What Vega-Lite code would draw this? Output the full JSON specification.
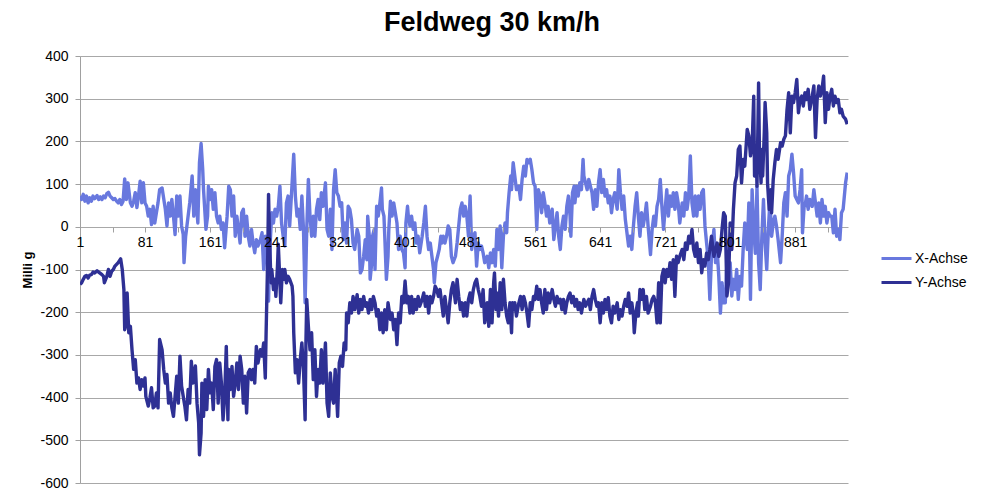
{
"$schema": "https://vega.github.io/schema/vega-lite/v6.json",
"width": 768, "height": 427,
"autosize": "none",
"padding": {"left": 80, "top": 56, "right": 138, "bottom": 7},
"background": "white",
"config": {"font": "Liberation Sans", "view": {"stroke": null}},
"title": {"text": "Feldweg 30 km/h", "fontSize": 27, "fontWeight": "bold", "font": "Liberation Sans", "color": "#000000", "anchor": "middle", "frame": "group", "dx": 28, "offset": 12},
"data": {"values": [
{"s":"X-Achse","i":1,"v":72},{"s":"X-Achse","i":3,"v":64},{"s":"X-Achse","i":5,"v":76},{"s":"X-Achse","i":7,"v":60},{"s":"X-Achse","i":9,"v":72},{"s":"X-Achse","i":11,"v":56},{"s":"X-Achse","i":13,"v":68},{"s":"X-Achse","i":15,"v":60},{"s":"X-Achse","i":17,"v":72},{"s":"X-Achse","i":19,"v":66},{"s":"X-Achse","i":22,"v":73},{"s":"X-Achse","i":24,"v":64},{"s":"X-Achse","i":26,"v":70},{"s":"X-Achse","i":28,"v":64},{"s":"X-Achse","i":30,"v":72},{"s":"X-Achse","i":32,"v":68},{"s":"X-Achse","i":34,"v":78},{"s":"X-Achse","i":36,"v":81},{"s":"X-Achse","i":38,"v":72},{"s":"X-Achse","i":40,"v":68},{"s":"X-Achse","i":42,"v":64},{"s":"X-Achse","i":44,"v":66},{"s":"X-Achse","i":46,"v":60},{"s":"X-Achse","i":48,"v":56},{"s":"X-Achse","i":50,"v":64},{"s":"X-Achse","i":52,"v":52},{"s":"X-Achse","i":54,"v":60},{"s":"X-Achse","i":56,"v":112},{"s":"X-Achse","i":58,"v":64},{"s":"X-Achse","i":60,"v":103},{"s":"X-Achse","i":63,"v":56},{"s":"X-Achse","i":65,"v":48},{"s":"X-Achse","i":67,"v":60},{"s":"X-Achse","i":69,"v":80},{"s":"X-Achse","i":71,"v":45},{"s":"X-Achse","i":73,"v":72},{"s":"X-Achse","i":75,"v":107},{"s":"X-Achse","i":77,"v":56},{"s":"X-Achse","i":79,"v":103},{"s":"X-Achse","i":81,"v":56},{"s":"X-Achse","i":83,"v":48},{"s":"X-Achse","i":85,"v":25},{"s":"X-Achse","i":87,"v":41},{"s":"X-Achse","i":89,"v":5},{"s":"X-Achse","i":91,"v":48},{"s":"X-Achse","i":93,"v":9},{"s":"X-Achse","i":95,"v":33},{"s":"X-Achse","i":97,"v":56},{"s":"X-Achse","i":99,"v":87},{"s":"X-Achse","i":102,"v":91},{"s":"X-Achse","i":106,"v":41},{"s":"X-Achse","i":108,"v":2},{"s":"X-Achse","i":110,"v":56},{"s":"X-Achse","i":112,"v":25},{"s":"X-Achse","i":114,"v":64},{"s":"X-Achse","i":116,"v":25},{"s":"X-Achse","i":118,"v":-18},{"s":"X-Achse","i":120,"v":72},{"s":"X-Achse","i":122,"v":25},{"s":"X-Achse","i":124,"v":72},{"s":"X-Achse","i":126,"v":2},{"s":"X-Achse","i":128,"v":-18},{"s":"X-Achse","i":129,"v":-84},{"s":"X-Achse","i":131,"v":-22},{"s":"X-Achse","i":133,"v":9},{"s":"X-Achse","i":136,"v":56},{"s":"X-Achse","i":139,"v":119},{"s":"X-Achse","i":141,"v":25},{"s":"X-Achse","i":143,"v":87},{"s":"X-Achse","i":146,"v":9},{"s":"X-Achse","i":148,"v":150},{"s":"X-Achse","i":150,"v":195},{"s":"X-Achse","i":152,"v":134},{"s":"X-Achse","i":153,"v":87},{"s":"X-Achse","i":156,"v":-6},{"s":"X-Achse","i":158,"v":25},{"s":"X-Achse","i":159,"v":95},{"s":"X-Achse","i":161,"v":64},{"s":"X-Achse","i":163,"v":87},{"s":"X-Achse","i":165,"v":41},{"s":"X-Achse","i":167,"v":80},{"s":"X-Achse","i":169,"v":25},{"s":"X-Achse","i":171,"v":9},{"s":"X-Achse","i":173,"v":25},{"s":"X-Achse","i":175,"v":-6},{"s":"X-Achse","i":177,"v":9},{"s":"X-Achse","i":179,"v":-49},{"s":"X-Achse","i":182,"v":25},{"s":"X-Achse","i":184,"v":95},{"s":"X-Achse","i":186,"v":87},{"s":"X-Achse","i":188,"v":25},{"s":"X-Achse","i":190,"v":72},{"s":"X-Achse","i":192,"v":-22},{"s":"X-Achse","i":194,"v":25},{"s":"X-Achse","i":196,"v":-6},{"s":"X-Achse","i":198,"v":-38},{"s":"X-Achse","i":200,"v":33},{"s":"X-Achse","i":202,"v":41},{"s":"X-Achse","i":204,"v":-22},{"s":"X-Achse","i":206,"v":25},{"s":"X-Achse","i":208,"v":-22},{"s":"X-Achse","i":210,"v":-45},{"s":"X-Achse","i":212,"v":-6},{"s":"X-Achse","i":214,"v":-38},{"s":"X-Achse","i":216,"v":-61},{"s":"X-Achse","i":218,"v":-30},{"s":"X-Achse","i":220,"v":-45},{"s":"X-Achse","i":223,"v":-30},{"s":"X-Achse","i":225,"v":-14},{"s":"X-Achse","i":227,"v":-100},{"s":"X-Achse","i":229,"v":-22},{"s":"X-Achse","i":231,"v":-53},{"s":"X-Achse","i":233,"v":-174},{"s":"X-Achse","i":235,"v":-38},{"s":"X-Achse","i":237,"v":33},{"s":"X-Achse","i":239,"v":9},{"s":"X-Achse","i":241,"v":41},{"s":"X-Achse","i":243,"v":25},{"s":"X-Achse","i":245,"v":48},{"s":"X-Achse","i":247,"v":95},{"s":"X-Achse","i":249,"v":9},{"s":"X-Achse","i":251,"v":-22},{"s":"X-Achse","i":253,"v":-45},{"s":"X-Achse","i":255,"v":56},{"s":"X-Achse","i":257,"v":72},{"s":"X-Achse","i":259,"v":2},{"s":"X-Achse","i":262,"v":103},{"s":"X-Achse","i":264,"v":170},{"s":"X-Achse","i":266,"v":72},{"s":"X-Achse","i":268,"v":25},{"s":"X-Achse","i":270,"v":41},{"s":"X-Achse","i":272,"v":-6},{"s":"X-Achse","i":274,"v":72},{"s":"X-Achse","i":276,"v":-6},{"s":"X-Achse","i":278,"v":-178},{"s":"X-Achse","i":280,"v":-6},{"s":"X-Achse","i":282,"v":111},{"s":"X-Achse","i":284,"v":25},{"s":"X-Achse","i":286,"v":-22},{"s":"X-Achse","i":288,"v":25},{"s":"X-Achse","i":290,"v":-22},{"s":"X-Achse","i":292,"v":41},{"s":"X-Achse","i":294,"v":64},{"s":"X-Achse","i":296,"v":17},{"s":"X-Achse","i":298,"v":80},{"s":"X-Achse","i":300,"v":48},{"s":"X-Achse","i":303,"v":103},{"s":"X-Achse","i":305,"v":-6},{"s":"X-Achse","i":307,"v":-22},{"s":"X-Achse","i":309,"v":41},{"s":"X-Achse","i":311,"v":-53},{"s":"X-Achse","i":313,"v":87},{"s":"X-Achse","i":315,"v":134},{"s":"X-Achse","i":317,"v":80},{"s":"X-Achse","i":319,"v":72},{"s":"X-Achse","i":321,"v":48},{"s":"X-Achse","i":323,"v":56},{"s":"X-Achse","i":325,"v":-30},{"s":"X-Achse","i":327,"v":9},{"s":"X-Achse","i":329,"v":-38},{"s":"X-Achse","i":331,"v":48},{"s":"X-Achse","i":333,"v":41},{"s":"X-Achse","i":335,"v":17},{"s":"X-Achse","i":337,"v":-38},{"s":"X-Achse","i":339,"v":-53},{"s":"X-Achse","i":342,"v":-6},{"s":"X-Achse","i":344,"v":-22},{"s":"X-Achse","i":346,"v":-108},{"s":"X-Achse","i":348,"v":-100},{"s":"X-Achse","i":350,"v":-69},{"s":"X-Achse","i":352,"v":-30},{"s":"X-Achse","i":354,"v":-77},{"s":"X-Achse","i":355,"v":25},{"s":"X-Achse","i":357,"v":-22},{"s":"X-Achse","i":358,"v":-123},{"s":"X-Achse","i":360,"v":-84},{"s":"X-Achse","i":361,"v":-22},{"s":"X-Achse","i":363,"v":-6},{"s":"X-Achse","i":364,"v":-100},{"s":"X-Achse","i":366,"v":48},{"s":"X-Achse","i":368,"v":25},{"s":"X-Achse","i":370,"v":56},{"s":"X-Achse","i":372,"v":91},{"s":"X-Achse","i":373,"v":41},{"s":"X-Achse","i":375,"v":25},{"s":"X-Achse","i":376,"v":-22},{"s":"X-Achse","i":378,"v":-123},{"s":"X-Achse","i":380,"v":-69},{"s":"X-Achse","i":381,"v":-6},{"s":"X-Achse","i":383,"v":60},{"s":"X-Achse","i":385,"v":25},{"s":"X-Achse","i":387,"v":56},{"s":"X-Achse","i":389,"v":33},{"s":"X-Achse","i":391,"v":9},{"s":"X-Achse","i":393,"v":-53},{"s":"X-Achse","i":395,"v":-22},{"s":"X-Achse","i":397,"v":-53},{"s":"X-Achse","i":399,"v":-61},{"s":"X-Achse","i":401,"v":-96},{"s":"X-Achse","i":402,"v":9},{"s":"X-Achse","i":404,"v":48},{"s":"X-Achse","i":405,"v":25},{"s":"X-Achse","i":407,"v":2},{"s":"X-Achse","i":409,"v":25},{"s":"X-Achse","i":411,"v":-6},{"s":"X-Achse","i":413,"v":9},{"s":"X-Achse","i":415,"v":-38},{"s":"X-Achse","i":417,"v":-22},{"s":"X-Achse","i":419,"v":-61},{"s":"X-Achse","i":422,"v":-22},{"s":"X-Achse","i":424,"v":9},{"s":"X-Achse","i":426,"v":48},{"s":"X-Achse","i":428,"v":-22},{"s":"X-Achse","i":430,"v":-53},{"s":"X-Achse","i":432,"v":-38},{"s":"X-Achse","i":434,"v":-69},{"s":"X-Achse","i":436,"v":-100},{"s":"X-Achse","i":437,"v":-131},{"s":"X-Achse","i":439,"v":-84},{"s":"X-Achse","i":441,"v":-69},{"s":"X-Achse","i":443,"v":-53},{"s":"X-Achse","i":445,"v":-22},{"s":"X-Achse","i":446,"v":-38},{"s":"X-Achse","i":448,"v":-22},{"s":"X-Achse","i":450,"v":-38},{"s":"X-Achse","i":452,"v":-22},{"s":"X-Achse","i":454,"v":2},{"s":"X-Achse","i":456,"v":-6},{"s":"X-Achse","i":458,"v":-69},{"s":"X-Achse","i":460,"v":-84},{"s":"X-Achse","i":463,"v":-69},{"s":"X-Achse","i":465,"v":-38},{"s":"X-Achse","i":467,"v":2},{"s":"X-Achse","i":469,"v":41},{"s":"X-Achse","i":471,"v":56},{"s":"X-Achse","i":473,"v":25},{"s":"X-Achse","i":475,"v":48},{"s":"X-Achse","i":477,"v":25},{"s":"X-Achse","i":479,"v":-22},{"s":"X-Achse","i":481,"v":72},{"s":"X-Achse","i":483,"v":-53},{"s":"X-Achse","i":485,"v":-22},{"s":"X-Achse","i":487,"v":-14},{"s":"X-Achse","i":489,"v":-92},{"s":"X-Achse","i":491,"v":-38},{"s":"X-Achse","i":493,"v":-53},{"s":"X-Achse","i":495,"v":-45},{"s":"X-Achse","i":497,"v":-61},{"s":"X-Achse","i":499,"v":-84},{"s":"X-Achse","i":502,"v":-69},{"s":"X-Achse","i":504,"v":-96},{"s":"X-Achse","i":506,"v":-61},{"s":"X-Achse","i":508,"v":-84},{"s":"X-Achse","i":510,"v":-53},{"s":"X-Achse","i":512,"v":-92},{"s":"X-Achse","i":514,"v":-6},{"s":"X-Achse","i":516,"v":-53},{"s":"X-Achse","i":518,"v":2},{"s":"X-Achse","i":520,"v":-96},{"s":"X-Achse","i":522,"v":-22},{"s":"X-Achse","i":524,"v":9},{"s":"X-Achse","i":526,"v":-14},{"s":"X-Achse","i":527,"v":33},{"s":"X-Achse","i":529,"v":80},{"s":"X-Achse","i":531,"v":119},{"s":"X-Achse","i":532,"v":87},{"s":"X-Achse","i":534,"v":150},{"s":"X-Achse","i":536,"v":119},{"s":"X-Achse","i":538,"v":87},{"s":"X-Achse","i":541,"v":95},{"s":"X-Achse","i":543,"v":64},{"s":"X-Achse","i":545,"v":111},{"s":"X-Achse","i":547,"v":142},{"s":"X-Achse","i":549,"v":119},{"s":"X-Achse","i":551,"v":158},{"s":"X-Achse","i":553,"v":150},{"s":"X-Achse","i":555,"v":158},{"s":"X-Achse","i":557,"v":134},{"s":"X-Achse","i":559,"v":103},{"s":"X-Achse","i":561,"v":95},{"s":"X-Achse","i":563,"v":-6},{"s":"X-Achse","i":565,"v":87},{"s":"X-Achse","i":567,"v":72},{"s":"X-Achse","i":569,"v":33},{"s":"X-Achse","i":571,"v":80},{"s":"X-Achse","i":573,"v":56},{"s":"X-Achse","i":575,"v":25},{"s":"X-Achse","i":577,"v":48},{"s":"X-Achse","i":579,"v":9},{"s":"X-Achse","i":582,"v":41},{"s":"X-Achse","i":584,"v":-30},{"s":"X-Achse","i":586,"v":2},{"s":"X-Achse","i":588,"v":33},{"s":"X-Achse","i":590,"v":-22},{"s":"X-Achse","i":592,"v":-53},{"s":"X-Achse","i":594,"v":2},{"s":"X-Achse","i":596,"v":25},{"s":"X-Achse","i":598,"v":-6},{"s":"X-Achse","i":600,"v":48},{"s":"X-Achse","i":602,"v":72},{"s":"X-Achse","i":604,"v":25},{"s":"X-Achse","i":605,"v":-22},{"s":"X-Achse","i":607,"v":80},{"s":"X-Achse","i":609,"v":95},{"s":"X-Achse","i":610,"v":56},{"s":"X-Achse","i":612,"v":95},{"s":"X-Achse","i":614,"v":72},{"s":"X-Achse","i":616,"v":103},{"s":"X-Achse","i":618,"v":87},{"s":"X-Achse","i":620,"v":158},{"s":"X-Achse","i":621,"v":119},{"s":"X-Achse","i":623,"v":103},{"s":"X-Achse","i":625,"v":87},{"s":"X-Achse","i":627,"v":111},{"s":"X-Achse","i":629,"v":95},{"s":"X-Achse","i":631,"v":80},{"s":"X-Achse","i":633,"v":41},{"s":"X-Achse","i":635,"v":87},{"s":"X-Achse","i":637,"v":48},{"s":"X-Achse","i":639,"v":103},{"s":"X-Achse","i":641,"v":134},{"s":"X-Achse","i":643,"v":80},{"s":"X-Achse","i":645,"v":111},{"s":"X-Achse","i":647,"v":72},{"s":"X-Achse","i":649,"v":87},{"s":"X-Achse","i":651,"v":56},{"s":"X-Achse","i":653,"v":72},{"s":"X-Achse","i":655,"v":33},{"s":"X-Achse","i":657,"v":64},{"s":"X-Achse","i":659,"v":80},{"s":"X-Achse","i":662,"v":41},{"s":"X-Achse","i":664,"v":134},{"s":"X-Achse","i":666,"v":80},{"s":"X-Achse","i":668,"v":41},{"s":"X-Achse","i":670,"v":72},{"s":"X-Achse","i":672,"v":17},{"s":"X-Achse","i":674,"v":-14},{"s":"X-Achse","i":676,"v":-45},{"s":"X-Achse","i":678,"v":-22},{"s":"X-Achse","i":680,"v":-53},{"s":"X-Achse","i":682,"v":2},{"s":"X-Achse","i":684,"v":48},{"s":"X-Achse","i":686,"v":80},{"s":"X-Achse","i":688,"v":25},{"s":"X-Achse","i":690,"v":-22},{"s":"X-Achse","i":692,"v":33},{"s":"X-Achse","i":694,"v":2},{"s":"X-Achse","i":696,"v":25},{"s":"X-Achse","i":698,"v":56},{"s":"X-Achse","i":700,"v":2},{"s":"X-Achse","i":703,"v":-65},{"s":"X-Achse","i":705,"v":-6},{"s":"X-Achse","i":707,"v":25},{"s":"X-Achse","i":709,"v":2},{"s":"X-Achse","i":711,"v":48},{"s":"X-Achse","i":713,"v":64},{"s":"X-Achse","i":715,"v":111},{"s":"X-Achse","i":717,"v":48},{"s":"X-Achse","i":719,"v":-6},{"s":"X-Achse","i":721,"v":41},{"s":"X-Achse","i":723,"v":87},{"s":"X-Achse","i":725,"v":25},{"s":"X-Achse","i":727,"v":72},{"s":"X-Achse","i":729,"v":48},{"s":"X-Achse","i":731,"v":80},{"s":"X-Achse","i":733,"v":41},{"s":"X-Achse","i":735,"v":80},{"s":"X-Achse","i":737,"v":56},{"s":"X-Achse","i":739,"v":9},{"s":"X-Achse","i":742,"v":56},{"s":"X-Achse","i":744,"v":25},{"s":"X-Achse","i":746,"v":80},{"s":"X-Achse","i":748,"v":41},{"s":"X-Achse","i":750,"v":72},{"s":"X-Achse","i":752,"v":166},{"s":"X-Achse","i":754,"v":56},{"s":"X-Achse","i":756,"v":25},{"s":"X-Achse","i":758,"v":72},{"s":"X-Achse","i":760,"v":25},{"s":"X-Achse","i":762,"v":72},{"s":"X-Achse","i":764,"v":41},{"s":"X-Achse","i":766,"v":80},{"s":"X-Achse","i":768,"v":87},{"s":"X-Achse","i":770,"v":2},{"s":"X-Achse","i":772,"v":-38},{"s":"X-Achse","i":774,"v":-77},{"s":"X-Achse","i":776,"v":-170},{"s":"X-Achse","i":778,"v":-69},{"s":"X-Achse","i":781,"v":-6},{"s":"X-Achse","i":783,"v":-84},{"s":"X-Achse","i":785,"v":-53},{"s":"X-Achse","i":787,"v":-116},{"s":"X-Achse","i":789,"v":-202},{"s":"X-Achse","i":791,"v":-131},{"s":"X-Achse","i":793,"v":-178},{"s":"X-Achse","i":795,"v":-178},{"s":"X-Achse","i":797,"v":-84},{"s":"X-Achse","i":799,"v":-131},{"s":"X-Achse","i":801,"v":-84},{"s":"X-Achse","i":803,"v":-162},{"s":"X-Achse","i":805,"v":-123},{"s":"X-Achse","i":807,"v":-147},{"s":"X-Achse","i":809,"v":-100},{"s":"X-Achse","i":811,"v":-170},{"s":"X-Achse","i":813,"v":-116},{"s":"X-Achse","i":815,"v":-139},{"s":"X-Achse","i":817,"v":-53},{"s":"X-Achse","i":819,"v":9},{"s":"X-Achse","i":822,"v":-53},{"s":"X-Achse","i":824,"v":56},{"s":"X-Achse","i":826,"v":-170},{"s":"X-Achse","i":828,"v":87},{"s":"X-Achse","i":830,"v":-6},{"s":"X-Achse","i":832,"v":-62},{"s":"X-Achse","i":834,"v":95},{"s":"X-Achse","i":836,"v":-84},{"s":"X-Achse","i":838,"v":-147},{"s":"X-Achse","i":840,"v":-22},{"s":"X-Achse","i":842,"v":64},{"s":"X-Achse","i":844,"v":-38},{"s":"X-Achse","i":846,"v":-100},{"s":"X-Achse","i":848,"v":-6},{"s":"X-Achse","i":850,"v":64},{"s":"X-Achse","i":852,"v":-22},{"s":"X-Achse","i":854,"v":9},{"s":"X-Achse","i":856,"v":25},{"s":"X-Achse","i":858,"v":2},{"s":"X-Achse","i":860,"v":-30},{"s":"X-Achse","i":863,"v":-84},{"s":"X-Achse","i":865,"v":-22},{"s":"X-Achse","i":867,"v":56},{"s":"X-Achse","i":869,"v":80},{"s":"X-Achse","i":871,"v":25},{"s":"X-Achse","i":873,"v":119},{"s":"X-Achse","i":875,"v":134},{"s":"X-Achse","i":877,"v":170},{"s":"X-Achse","i":879,"v":127},{"s":"X-Achse","i":881,"v":72},{"s":"X-Achse","i":883,"v":64},{"s":"X-Achse","i":885,"v":56},{"s":"X-Achse","i":887,"v":87},{"s":"X-Achse","i":889,"v":134},{"s":"X-Achse","i":890,"v":-14},{"s":"X-Achse","i":892,"v":48},{"s":"X-Achse","i":893,"v":48},{"s":"X-Achse","i":895,"v":72},{"s":"X-Achse","i":897,"v":41},{"s":"X-Achse","i":899,"v":64},{"s":"X-Achse","i":902,"v":48},{"s":"X-Achse","i":904,"v":87},{"s":"X-Achse","i":906,"v":56},{"s":"X-Achse","i":908,"v":25},{"s":"X-Achse","i":910,"v":56},{"s":"X-Achse","i":912,"v":9},{"s":"X-Achse","i":914,"v":64},{"s":"X-Achse","i":916,"v":25},{"s":"X-Achse","i":918,"v":48},{"s":"X-Achse","i":920,"v":9},{"s":"X-Achse","i":922,"v":33},{"s":"X-Achse","i":924,"v":25},{"s":"X-Achse","i":926,"v":25},{"s":"X-Achse","i":928,"v":-14},{"s":"X-Achse","i":930,"v":41},{"s":"X-Achse","i":932,"v":-22},{"s":"X-Achse","i":934,"v":-6},{"s":"X-Achse","i":936,"v":-30},{"s":"X-Achse","i":938,"v":33},{"s":"X-Achse","i":940,"v":41},{"s":"X-Achse","i":943,"v":103},{"s":"X-Achse","i":945,"v":127},
{"s":"Y-Achse","i":1,"v":-135},{"s":"Y-Achse","i":3,"v":-131},{"s":"Y-Achse","i":5,"v":-123},{"s":"Y-Achse","i":7,"v":-116},{"s":"Y-Achse","i":9,"v":-114},{"s":"Y-Achse","i":11,"v":-120},{"s":"Y-Achse","i":13,"v":-113},{"s":"Y-Achse","i":15,"v":-112},{"s":"Y-Achse","i":17,"v":-106},{"s":"Y-Achse","i":19,"v":-108},{"s":"Y-Achse","i":22,"v":-103},{"s":"Y-Achse","i":24,"v":-106},{"s":"Y-Achse","i":26,"v":-109},{"s":"Y-Achse","i":28,"v":-112},{"s":"Y-Achse","i":30,"v":-116},{"s":"Y-Achse","i":31,"v":-131},{"s":"Y-Achse","i":34,"v":-116},{"s":"Y-Achse","i":36,"v":-100},{"s":"Y-Achse","i":38,"v":-116},{"s":"Y-Achse","i":40,"v":-104},{"s":"Y-Achse","i":42,"v":-100},{"s":"Y-Achse","i":44,"v":-92},{"s":"Y-Achse","i":46,"v":-88},{"s":"Y-Achse","i":48,"v":-84},{"s":"Y-Achse","i":51,"v":-75},{"s":"Y-Achse","i":53,"v":-100},{"s":"Y-Achse","i":55,"v":-147},{"s":"Y-Achse","i":56,"v":-241},{"s":"Y-Achse","i":58,"v":-225},{"s":"Y-Achse","i":59,"v":-155},{"s":"Y-Achse","i":61,"v":-248},{"s":"Y-Achse","i":63,"v":-233},{"s":"Y-Achse","i":65,"v":-288},{"s":"Y-Achse","i":67,"v":-334},{"s":"Y-Achse","i":69,"v":-311},{"s":"Y-Achse","i":71,"v":-366},{"s":"Y-Achse","i":73,"v":-354},{"s":"Y-Achse","i":75,"v":-381},{"s":"Y-Achse","i":77,"v":-358},{"s":"Y-Achse","i":79,"v":-373},{"s":"Y-Achse","i":81,"v":-354},{"s":"Y-Achse","i":82,"v":-397},{"s":"Y-Achse","i":85,"v":-420},{"s":"Y-Achse","i":87,"v":-401},{"s":"Y-Achse","i":89,"v":-377},{"s":"Y-Achse","i":91,"v":-424},{"s":"Y-Achse","i":93,"v":-420},{"s":"Y-Achse","i":95,"v":-389},{"s":"Y-Achse","i":97,"v":-424},{"s":"Y-Achse","i":99,"v":-264},{"s":"Y-Achse","i":102,"v":-288},{"s":"Y-Achse","i":104,"v":-334},{"s":"Y-Achse","i":106,"v":-366},{"s":"Y-Achse","i":108,"v":-346},{"s":"Y-Achse","i":110,"v":-413},{"s":"Y-Achse","i":112,"v":-389},{"s":"Y-Achse","i":114,"v":-424},{"s":"Y-Achse","i":116,"v":-444},{"s":"Y-Achse","i":118,"v":-397},{"s":"Y-Achse","i":120,"v":-350},{"s":"Y-Achse","i":122,"v":-413},{"s":"Y-Achse","i":124,"v":-303},{"s":"Y-Achse","i":126,"v":-373},{"s":"Y-Achse","i":128,"v":-397},{"s":"Y-Achse","i":130,"v":-420},{"s":"Y-Achse","i":132,"v":-452},{"s":"Y-Achse","i":134,"v":-381},{"s":"Y-Achse","i":136,"v":-413},{"s":"Y-Achse","i":138,"v":-315},{"s":"Y-Achse","i":140,"v":-366},{"s":"Y-Achse","i":143,"v":-326},{"s":"Y-Achse","i":145,"v":-413},{"s":"Y-Achse","i":147,"v":-459},{"s":"Y-Achse","i":148,"v":-534},{"s":"Y-Achse","i":150,"v":-483},{"s":"Y-Achse","i":151,"v":-366},{"s":"Y-Achse","i":153,"v":-444},{"s":"Y-Achse","i":155,"v":-358},{"s":"Y-Achse","i":157,"v":-428},{"s":"Y-Achse","i":159,"v":-334},{"s":"Y-Achse","i":161,"v":-389},{"s":"Y-Achse","i":163,"v":-366},{"s":"Y-Achse","i":165,"v":-428},{"s":"Y-Achse","i":167,"v":-327},{"s":"Y-Achse","i":169,"v":-311},{"s":"Y-Achse","i":171,"v":-413},{"s":"Y-Achse","i":173,"v":-319},{"s":"Y-Achse","i":175,"v":-366},{"s":"Y-Achse","i":177,"v":-452},{"s":"Y-Achse","i":179,"v":-397},{"s":"Y-Achse","i":181,"v":-280},{"s":"Y-Achse","i":183,"v":-452},{"s":"Y-Achse","i":184,"v":-334},{"s":"Y-Achse","i":186,"v":-381},{"s":"Y-Achse","i":188,"v":-327},{"s":"Y-Achse","i":190,"v":-397},{"s":"Y-Achse","i":192,"v":-366},{"s":"Y-Achse","i":194,"v":-319},{"s":"Y-Achse","i":196,"v":-381},{"s":"Y-Achse","i":198,"v":-303},{"s":"Y-Achse","i":200,"v":-334},{"s":"Y-Achse","i":202,"v":-413},{"s":"Y-Achse","i":204,"v":-350},{"s":"Y-Achse","i":206,"v":-436},{"s":"Y-Achse","i":208,"v":-342},{"s":"Y-Achse","i":210,"v":-334},{"s":"Y-Achse","i":212,"v":-358},{"s":"Y-Achse","i":214,"v":-334},{"s":"Y-Achse","i":216,"v":-366},{"s":"Y-Achse","i":218,"v":-280},{"s":"Y-Achse","i":220,"v":-319},{"s":"Y-Achse","i":223,"v":-288},{"s":"Y-Achse","i":225,"v":-303},{"s":"Y-Achse","i":227,"v":-272},{"s":"Y-Achse","i":229,"v":-354},{"s":"Y-Achse","i":230,"v":-248},{"s":"Y-Achse","i":232,"v":-69},{"s":"Y-Achse","i":233,"v":76},{"s":"Y-Achse","i":234,"v":-14},{"s":"Y-Achse","i":236,"v":-131},{"s":"Y-Achse","i":237,"v":-100},{"s":"Y-Achse","i":239,"v":-147},{"s":"Y-Achse","i":241,"v":-123},{"s":"Y-Achse","i":242,"v":-163},{"s":"Y-Achse","i":244,"v":-92},{"s":"Y-Achse","i":245,"v":-41},{"s":"Y-Achse","i":247,"v":-131},{"s":"Y-Achse","i":248,"v":-178},{"s":"Y-Achse","i":250,"v":-100},{"s":"Y-Achse","i":252,"v":-123},{"s":"Y-Achse","i":253,"v":-100},{"s":"Y-Achse","i":255,"v":-131},{"s":"Y-Achse","i":257,"v":-116},{"s":"Y-Achse","i":259,"v":-123},{"s":"Y-Achse","i":262,"v":-139},{"s":"Y-Achse","i":263,"v":-163},{"s":"Y-Achse","i":264,"v":-248},{"s":"Y-Achse","i":266,"v":-342},{"s":"Y-Achse","i":268,"v":-311},{"s":"Y-Achse","i":270,"v":-366},{"s":"Y-Achse","i":272,"v":-311},{"s":"Y-Achse","i":274,"v":-272},{"s":"Y-Achse","i":276,"v":-334},{"s":"Y-Achse","i":278,"v":-452},{"s":"Y-Achse","i":279,"v":-272},{"s":"Y-Achse","i":280,"v":-170},{"s":"Y-Achse","i":282,"v":-233},{"s":"Y-Achse","i":284,"v":-288},{"s":"Y-Achse","i":286,"v":-248},{"s":"Y-Achse","i":288,"v":-358},{"s":"Y-Achse","i":290,"v":-288},{"s":"Y-Achse","i":292,"v":-397},{"s":"Y-Achse","i":294,"v":-334},{"s":"Y-Achse","i":296,"v":-366},{"s":"Y-Achse","i":298,"v":-288},{"s":"Y-Achse","i":300,"v":-366},{"s":"Y-Achse","i":303,"v":-272},{"s":"Y-Achse","i":305,"v":-413},{"s":"Y-Achse","i":307,"v":-444},{"s":"Y-Achse","i":309,"v":-342},{"s":"Y-Achse","i":311,"v":-397},{"s":"Y-Achse","i":313,"v":-413},{"s":"Y-Achse","i":315,"v":-334},{"s":"Y-Achse","i":317,"v":-405},{"s":"Y-Achse","i":318,"v":-444},{"s":"Y-Achse","i":320,"v":-319},{"s":"Y-Achse","i":322,"v":-303},{"s":"Y-Achse","i":324,"v":-327},{"s":"Y-Achse","i":326,"v":-272},{"s":"Y-Achse","i":328,"v":-288},{"s":"Y-Achse","i":329,"v":-202},{"s":"Y-Achse","i":331,"v":-225},{"s":"Y-Achse","i":333,"v":-178},{"s":"Y-Achse","i":335,"v":-202},{"s":"Y-Achse","i":337,"v":-163},{"s":"Y-Achse","i":339,"v":-194},{"s":"Y-Achse","i":342,"v":-159},{"s":"Y-Achse","i":344,"v":-202},{"s":"Y-Achse","i":346,"v":-170},{"s":"Y-Achse","i":348,"v":-194},{"s":"Y-Achse","i":350,"v":-163},{"s":"Y-Achse","i":352,"v":-186},{"s":"Y-Achse","i":354,"v":-178},{"s":"Y-Achse","i":356,"v":-202},{"s":"Y-Achse","i":358,"v":-170},{"s":"Y-Achse","i":360,"v":-194},{"s":"Y-Achse","i":362,"v":-163},{"s":"Y-Achse","i":364,"v":-178},{"s":"Y-Achse","i":366,"v":-209},{"s":"Y-Achse","i":368,"v":-194},{"s":"Y-Achse","i":370,"v":-241},{"s":"Y-Achse","i":372,"v":-202},{"s":"Y-Achse","i":374,"v":-248},{"s":"Y-Achse","i":376,"v":-194},{"s":"Y-Achse","i":378,"v":-241},{"s":"Y-Achse","i":380,"v":-178},{"s":"Y-Achse","i":383,"v":-217},{"s":"Y-Achse","i":385,"v":-202},{"s":"Y-Achse","i":387,"v":-241},{"s":"Y-Achse","i":389,"v":-217},{"s":"Y-Achse","i":391,"v":-276},{"s":"Y-Achse","i":393,"v":-202},{"s":"Y-Achse","i":395,"v":-225},{"s":"Y-Achse","i":397,"v":-163},{"s":"Y-Achse","i":399,"v":-178},{"s":"Y-Achse","i":401,"v":-127},{"s":"Y-Achse","i":403,"v":-178},{"s":"Y-Achse","i":405,"v":-163},{"s":"Y-Achse","i":407,"v":-202},{"s":"Y-Achse","i":409,"v":-163},{"s":"Y-Achse","i":411,"v":-202},{"s":"Y-Achse","i":413,"v":-170},{"s":"Y-Achse","i":415,"v":-194},{"s":"Y-Achse","i":417,"v":-163},{"s":"Y-Achse","i":419,"v":-186},{"s":"Y-Achse","i":422,"v":-170},{"s":"Y-Achse","i":424,"v":-155},{"s":"Y-Achse","i":426,"v":-186},{"s":"Y-Achse","i":428,"v":-163},{"s":"Y-Achse","i":430,"v":-202},{"s":"Y-Achse","i":432,"v":-163},{"s":"Y-Achse","i":434,"v":-178},{"s":"Y-Achse","i":436,"v":-163},{"s":"Y-Achse","i":438,"v":-139},{"s":"Y-Achse","i":440,"v":-147},{"s":"Y-Achse","i":442,"v":-163},{"s":"Y-Achse","i":444,"v":-147},{"s":"Y-Achse","i":446,"v":-178},{"s":"Y-Achse","i":448,"v":-209},{"s":"Y-Achse","i":450,"v":-163},{"s":"Y-Achse","i":452,"v":-194},{"s":"Y-Achse","i":454,"v":-225},{"s":"Y-Achse","i":456,"v":-178},{"s":"Y-Achse","i":458,"v":-147},{"s":"Y-Achse","i":460,"v":-131},{"s":"Y-Achse","i":463,"v":-178},{"s":"Y-Achse","i":465,"v":-123},{"s":"Y-Achse","i":467,"v":-163},{"s":"Y-Achse","i":469,"v":-194},{"s":"Y-Achse","i":471,"v":-178},{"s":"Y-Achse","i":473,"v":-209},{"s":"Y-Achse","i":475,"v":-178},{"s":"Y-Achse","i":477,"v":-209},{"s":"Y-Achse","i":479,"v":-170},{"s":"Y-Achse","i":481,"v":-155},{"s":"Y-Achse","i":483,"v":-178},{"s":"Y-Achse","i":485,"v":-147},{"s":"Y-Achse","i":487,"v":-131},{"s":"Y-Achse","i":489,"v":-123},{"s":"Y-Achse","i":491,"v":-147},{"s":"Y-Achse","i":493,"v":-163},{"s":"Y-Achse","i":495,"v":-186},{"s":"Y-Achse","i":497,"v":-147},{"s":"Y-Achse","i":499,"v":-225},{"s":"Y-Achse","i":502,"v":-178},{"s":"Y-Achse","i":504,"v":-233},{"s":"Y-Achse","i":506,"v":-147},{"s":"Y-Achse","i":508,"v":-225},{"s":"Y-Achse","i":510,"v":-131},{"s":"Y-Achse","i":511,"v":-108},{"s":"Y-Achse","i":513,"v":-194},{"s":"Y-Achse","i":514,"v":-155},{"s":"Y-Achse","i":516,"v":-209},{"s":"Y-Achse","i":518,"v":-131},{"s":"Y-Achse","i":520,"v":-194},{"s":"Y-Achse","i":522,"v":-123},{"s":"Y-Achse","i":524,"v":-178},{"s":"Y-Achse","i":526,"v":-209},{"s":"Y-Achse","i":528,"v":-225},{"s":"Y-Achse","i":530,"v":-178},{"s":"Y-Achse","i":532,"v":-248},{"s":"Y-Achse","i":533,"v":-178},{"s":"Y-Achse","i":535,"v":-194},{"s":"Y-Achse","i":536,"v":-178},{"s":"Y-Achse","i":538,"v":-209},{"s":"Y-Achse","i":541,"v":-178},{"s":"Y-Achse","i":543,"v":-163},{"s":"Y-Achse","i":545,"v":-194},{"s":"Y-Achse","i":547,"v":-163},{"s":"Y-Achse","i":549,"v":-178},{"s":"Y-Achse","i":551,"v":-202},{"s":"Y-Achse","i":553,"v":-233},{"s":"Y-Achse","i":555,"v":-178},{"s":"Y-Achse","i":557,"v":-194},{"s":"Y-Achse","i":559,"v":-163},{"s":"Y-Achse","i":561,"v":-170},{"s":"Y-Achse","i":563,"v":-139},{"s":"Y-Achse","i":565,"v":-170},{"s":"Y-Achse","i":567,"v":-147},{"s":"Y-Achse","i":569,"v":-178},{"s":"Y-Achse","i":571,"v":-202},{"s":"Y-Achse","i":573,"v":-147},{"s":"Y-Achse","i":575,"v":-194},{"s":"Y-Achse","i":577,"v":-155},{"s":"Y-Achse","i":579,"v":-178},{"s":"Y-Achse","i":582,"v":-147},{"s":"Y-Achse","i":584,"v":-170},{"s":"Y-Achse","i":586,"v":-186},{"s":"Y-Achse","i":588,"v":-163},{"s":"Y-Achse","i":590,"v":-178},{"s":"Y-Achse","i":592,"v":-170},{"s":"Y-Achse","i":594,"v":-194},{"s":"Y-Achse","i":596,"v":-170},{"s":"Y-Achse","i":598,"v":-202},{"s":"Y-Achse","i":600,"v":-178},{"s":"Y-Achse","i":602,"v":-163},{"s":"Y-Achse","i":604,"v":-155},{"s":"Y-Achse","i":606,"v":-178},{"s":"Y-Achse","i":608,"v":-163},{"s":"Y-Achse","i":610,"v":-186},{"s":"Y-Achse","i":612,"v":-170},{"s":"Y-Achse","i":614,"v":-194},{"s":"Y-Achse","i":616,"v":-178},{"s":"Y-Achse","i":618,"v":-202},{"s":"Y-Achse","i":621,"v":-170},{"s":"Y-Achse","i":623,"v":-186},{"s":"Y-Achse","i":625,"v":-178},{"s":"Y-Achse","i":627,"v":-170},{"s":"Y-Achse","i":629,"v":-194},{"s":"Y-Achse","i":631,"v":-163},{"s":"Y-Achse","i":633,"v":-147},{"s":"Y-Achse","i":635,"v":-170},{"s":"Y-Achse","i":637,"v":-186},{"s":"Y-Achse","i":639,"v":-178},{"s":"Y-Achse","i":641,"v":-225},{"s":"Y-Achse","i":643,"v":-178},{"s":"Y-Achse","i":645,"v":-202},{"s":"Y-Achse","i":647,"v":-170},{"s":"Y-Achse","i":649,"v":-194},{"s":"Y-Achse","i":651,"v":-166},{"s":"Y-Achse","i":653,"v":-209},{"s":"Y-Achse","i":655,"v":-225},{"s":"Y-Achse","i":657,"v":-186},{"s":"Y-Achse","i":659,"v":-202},{"s":"Y-Achse","i":662,"v":-178},{"s":"Y-Achse","i":664,"v":-217},{"s":"Y-Achse","i":666,"v":-194},{"s":"Y-Achse","i":668,"v":-209},{"s":"Y-Achse","i":670,"v":-186},{"s":"Y-Achse","i":672,"v":-170},{"s":"Y-Achse","i":674,"v":-186},{"s":"Y-Achse","i":676,"v":-155},{"s":"Y-Achse","i":678,"v":-202},{"s":"Y-Achse","i":680,"v":-178},{"s":"Y-Achse","i":682,"v":-209},{"s":"Y-Achse","i":683,"v":-248},{"s":"Y-Achse","i":685,"v":-202},{"s":"Y-Achse","i":687,"v":-178},{"s":"Y-Achse","i":688,"v":-209},{"s":"Y-Achse","i":690,"v":-147},{"s":"Y-Achse","i":692,"v":-170},{"s":"Y-Achse","i":694,"v":-147},{"s":"Y-Achse","i":696,"v":-194},{"s":"Y-Achse","i":698,"v":-163},{"s":"Y-Achse","i":700,"v":-202},{"s":"Y-Achse","i":703,"v":-186},{"s":"Y-Achse","i":705,"v":-170},{"s":"Y-Achse","i":707,"v":-163},{"s":"Y-Achse","i":709,"v":-178},{"s":"Y-Achse","i":711,"v":-225},{"s":"Y-Achse","i":713,"v":-131},{"s":"Y-Achse","i":715,"v":-225},{"s":"Y-Achse","i":717,"v":-116},{"s":"Y-Achse","i":719,"v":-100},{"s":"Y-Achse","i":721,"v":-131},{"s":"Y-Achse","i":723,"v":-100},{"s":"Y-Achse","i":725,"v":-116},{"s":"Y-Achse","i":727,"v":-84},{"s":"Y-Achse","i":729,"v":-123},{"s":"Y-Achse","i":731,"v":-77},{"s":"Y-Achse","i":733,"v":-163},{"s":"Y-Achse","i":735,"v":-69},{"s":"Y-Achse","i":737,"v":-84},{"s":"Y-Achse","i":739,"v":-69},{"s":"Y-Achse","i":742,"v":-53},{"s":"Y-Achse","i":744,"v":-77},{"s":"Y-Achse","i":746,"v":-38},{"s":"Y-Achse","i":748,"v":-53},{"s":"Y-Achse","i":750,"v":-22},{"s":"Y-Achse","i":752,"v":-38},{"s":"Y-Achse","i":754,"v":-6},{"s":"Y-Achse","i":756,"v":-53},{"s":"Y-Achse","i":758,"v":-69},{"s":"Y-Achse","i":760,"v":-38},{"s":"Y-Achse","i":762,"v":-84},{"s":"Y-Achse","i":764,"v":-53},{"s":"Y-Achse","i":766,"v":-108},{"s":"Y-Achse","i":768,"v":-77},{"s":"Y-Achse","i":770,"v":-92},{"s":"Y-Achse","i":772,"v":-62},{"s":"Y-Achse","i":774,"v":-77},{"s":"Y-Achse","i":776,"v":-53},{"s":"Y-Achse","i":778,"v":-22},{"s":"Y-Achse","i":781,"v":-69},{"s":"Y-Achse","i":783,"v":-53},{"s":"Y-Achse","i":785,"v":-38},{"s":"Y-Achse","i":787,"v":-69},{"s":"Y-Achse","i":789,"v":-53},{"s":"Y-Achse","i":791,"v":-6},{"s":"Y-Achse","i":793,"v":33},{"s":"Y-Achse","i":795,"v":25},{"s":"Y-Achse","i":797,"v":-162},{"s":"Y-Achse","i":799,"v":-131},{"s":"Y-Achse","i":801,"v":9},{"s":"Y-Achse","i":803,"v":-53},{"s":"Y-Achse","i":805,"v":41},{"s":"Y-Achse","i":807,"v":103},{"s":"Y-Achse","i":809,"v":119},{"s":"Y-Achse","i":811,"v":181},{"s":"Y-Achse","i":813,"v":189},{"s":"Y-Achse","i":815,"v":103},{"s":"Y-Achse","i":817,"v":158},{"s":"Y-Achse","i":819,"v":142},{"s":"Y-Achse","i":822,"v":228},{"s":"Y-Achse","i":824,"v":213},{"s":"Y-Achse","i":826,"v":166},{"s":"Y-Achse","i":828,"v":189},{"s":"Y-Achse","i":830,"v":306},{"s":"Y-Achse","i":831,"v":119},{"s":"Y-Achse","i":833,"v":181},{"s":"Y-Achse","i":834,"v":95},{"s":"Y-Achse","i":836,"v":337},{"s":"Y-Achse","i":837,"v":181},{"s":"Y-Achse","i":839,"v":103},{"s":"Y-Achse","i":840,"v":181},{"s":"Y-Achse","i":841,"v":119},{"s":"Y-Achse","i":843,"v":220},{"s":"Y-Achse","i":844,"v":291},{"s":"Y-Achse","i":846,"v":220},{"s":"Y-Achse","i":847,"v":103},{"s":"Y-Achse","i":849,"v":41},{"s":"Y-Achse","i":851,"v":87},{"s":"Y-Achse","i":852,"v":33},{"s":"Y-Achse","i":854,"v":111},{"s":"Y-Achse","i":856,"v":150},{"s":"Y-Achse","i":858,"v":181},{"s":"Y-Achse","i":860,"v":158},{"s":"Y-Achse","i":863,"v":197},{"s":"Y-Achse","i":865,"v":189},{"s":"Y-Achse","i":867,"v":205},{"s":"Y-Achse","i":869,"v":213},{"s":"Y-Achse","i":871,"v":275},{"s":"Y-Achse","i":873,"v":314},{"s":"Y-Achse","i":875,"v":220},{"s":"Y-Achse","i":877,"v":306},{"s":"Y-Achse","i":879,"v":291},{"s":"Y-Achse","i":881,"v":314},{"s":"Y-Achse","i":883,"v":345},{"s":"Y-Achse","i":885,"v":267},{"s":"Y-Achse","i":887,"v":298},{"s":"Y-Achse","i":889,"v":306},{"s":"Y-Achse","i":891,"v":283},{"s":"Y-Achse","i":893,"v":314},{"s":"Y-Achse","i":895,"v":298},{"s":"Y-Achse","i":897,"v":322},{"s":"Y-Achse","i":899,"v":275},{"s":"Y-Achse","i":902,"v":306},{"s":"Y-Achse","i":904,"v":330},{"s":"Y-Achse","i":906,"v":209},{"s":"Y-Achse","i":908,"v":298},{"s":"Y-Achse","i":910,"v":330},{"s":"Y-Achse","i":912,"v":306},{"s":"Y-Achse","i":914,"v":322},{"s":"Y-Achse","i":916,"v":353},{"s":"Y-Achse","i":918,"v":244},{"s":"Y-Achse","i":920,"v":314},{"s":"Y-Achse","i":922,"v":275},{"s":"Y-Achse","i":924,"v":306},{"s":"Y-Achse","i":926,"v":322},{"s":"Y-Achse","i":928,"v":283},{"s":"Y-Achse","i":930,"v":306},{"s":"Y-Achse","i":932,"v":291},{"s":"Y-Achse","i":934,"v":298},{"s":"Y-Achse","i":936,"v":267},{"s":"Y-Achse","i":938,"v":275},{"s":"Y-Achse","i":940,"v":259},{"s":"Y-Achse","i":943,"v":252},{"s":"Y-Achse","i":945,"v":240}
]},
"mark": {"type": "line", "strokeWidth": 3.4, "strokeJoin": "round", "clip": true},
"encoding": {
  "x": {"field": "i", "type": "quantitative",
    "scale": {"domain": [1, 946], "nice": false, "zero": false},
    "axis": {"values": [1,41,81,121,161,201,241,281,321,361,401,441,481,521,561,601,641,681,721,761,801,841,881,921],
      "labelExpr": "(datum.value - 1) % 80 == 0 ? datum.label : ''",
      "offset": -256, "grid": false, "title": null, "domain": false, "zindex": 1,
      "tickColor": "#A0A0A0", "tickSize": 5,
      "labelFont": "Liberation Sans", "labelFontSize": 14, "labelColor": "#000000",
      "labelPadding": 3, "labelFlush": false, "labelOverlap": false}},
  "y": {"field": "v", "type": "quantitative",
    "scale": {"domain": [-600, 400], "nice": false},
    "axis": {"values": [-600,-500,-400,-300,-200,-100,0,100,200,300,400],
      "labelExpr": "'' + datum.value",
      "grid": true, "gridColor": "#A8A8A8", "gridWidth": 1,
      "domainColor": "#A0A0A0", "tickColor": "#A0A0A0", "tickSize": 5,
      "labelFont": "Liberation Sans", "labelFontSize": 14, "labelColor": "#000000", "labelPadding": 7,
      "title": "Milli g", "titleFont": "Liberation Sans", "titleFontSize": 13, "titleFontWeight": "bold", "titleColor": "#000000", "titlePadding": 5}},
  "color": {"field": "s", "type": "nominal",
    "scale": {"domain": ["X-Achse", "Y-Achse"], "range": ["#6878DE", "#2E3094"]},
    "legend": {"orient": "none", "legendX": 800, "legendY": 186, "title": null,
      "symbolType": "stroke", "symbolSize": 900, "symbolStrokeWidth": 3,
      "labelFont": "Liberation Sans", "labelFontSize": 14, "labelColor": "#000000", "labelOffset": 2, "rowPadding": -4}}
}
}
